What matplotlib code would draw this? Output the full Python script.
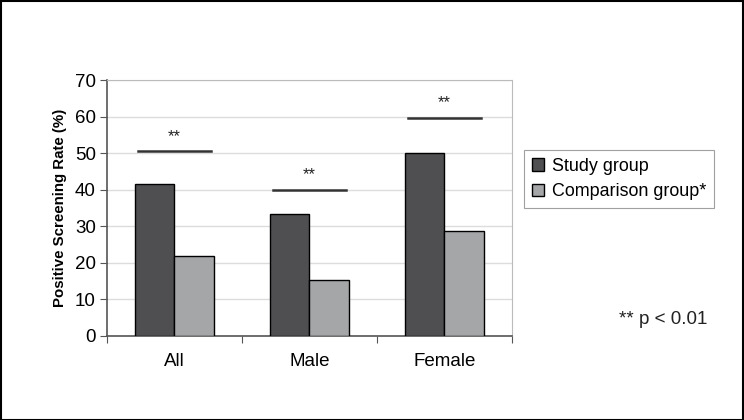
import matplotlib.pyplot as plt
from matplotlib.patches import Rectangle
import numpy as np

plt.rcParams['font.family'] = ['Liberation Sans', 'DejaVu Sans']

categories = ["All", "Male", "Female"]
study = [41.7, 33.3, 50.1]
comparison = [22.0, 15.2, 28.8]
sig_levels = [50.5, 40.0, 59.7]
sig_marks = ["**", "**", "**"]

dark = "#4f4f51"
light = "#a5a6a8"

fig = plt.figure(figsize=(7.44, 4.2), dpi=100)
ax = fig.add_axes([0.1438, 0.2, 0.5443, 0.6095])

x = np.arange(len(categories))
w = 0.29
ax.bar(x - w / 2, study, w, color=dark, edgecolor="black", linewidth=1.0,
       label="Study group", zorder=3)
ax.bar(x + w / 2, comparison, w, color=light, edgecolor="black", linewidth=1.0,
       label="Comparison group*", zorder=3)

# significance bars
for xi, lvl, mark in zip(x, sig_levels, sig_marks):
    ax.plot([xi - 0.27, xi + 0.27], [lvl, lvl], color="#333333", lw=1.8, zorder=4)
    ax.text(xi, lvl + 2.0, mark, ha="center", va="bottom", fontsize=12, color="#222222")

ax.set_xlim(-0.5, 2.5)
ax.set_ylim(0, 70)
ax.set_yticks(range(0, 71, 10))
ax.yaxis.grid(True, color="#dcdcdc", lw=1.0, zorder=0)
ax.set_xticks([-0.5, 0.5, 1.5, 2.5])
ax.set_xticklabels([])
ax.set_xticks(x, minor=True)
ax.set_xticklabels(categories, minor=True)
ax.tick_params(axis="x", which="minor", length=0, pad=12, labelsize=13.5)
ax.tick_params(axis="x", which="major", length=5, color="#555555")
ax.tick_params(axis="y", length=5, labelsize=13.5, color="#555555", pad=3)

for s in ["top", "right"]:
    ax.spines[s].set_color("#bbbbbb")
for s in ["left", "bottom"]:
    ax.spines[s].set_color("#555555")
    ax.spines[s].set_linewidth(1.2)

ax.set_ylabel("Positive Screening Rate (%)", fontsize=10.8, fontweight="bold", labelpad=6)

leg = fig.legend(loc="upper left", bbox_to_anchor=(0.704, 0.643), borderaxespad=0,
                 fontsize=12.9, frameon=True, fancybox=False, edgecolor="#888888",
                 handlelength=0.7, handleheight=0.7, handletextpad=0.4,
                 labelspacing=0.45, borderpad=0.45)
leg.get_frame().set_linewidth(0.8)

fig.text(0.832, 0.228, "** p < 0.01", fontsize=13.5, color="#222222")

fig.patches.append(Rectangle((0.001, 0.001), 0.997, 0.997, transform=fig.transFigure,
                             fill=False, edgecolor="black", lw=1.5))

fig.savefig("out.png", dpi=100)
